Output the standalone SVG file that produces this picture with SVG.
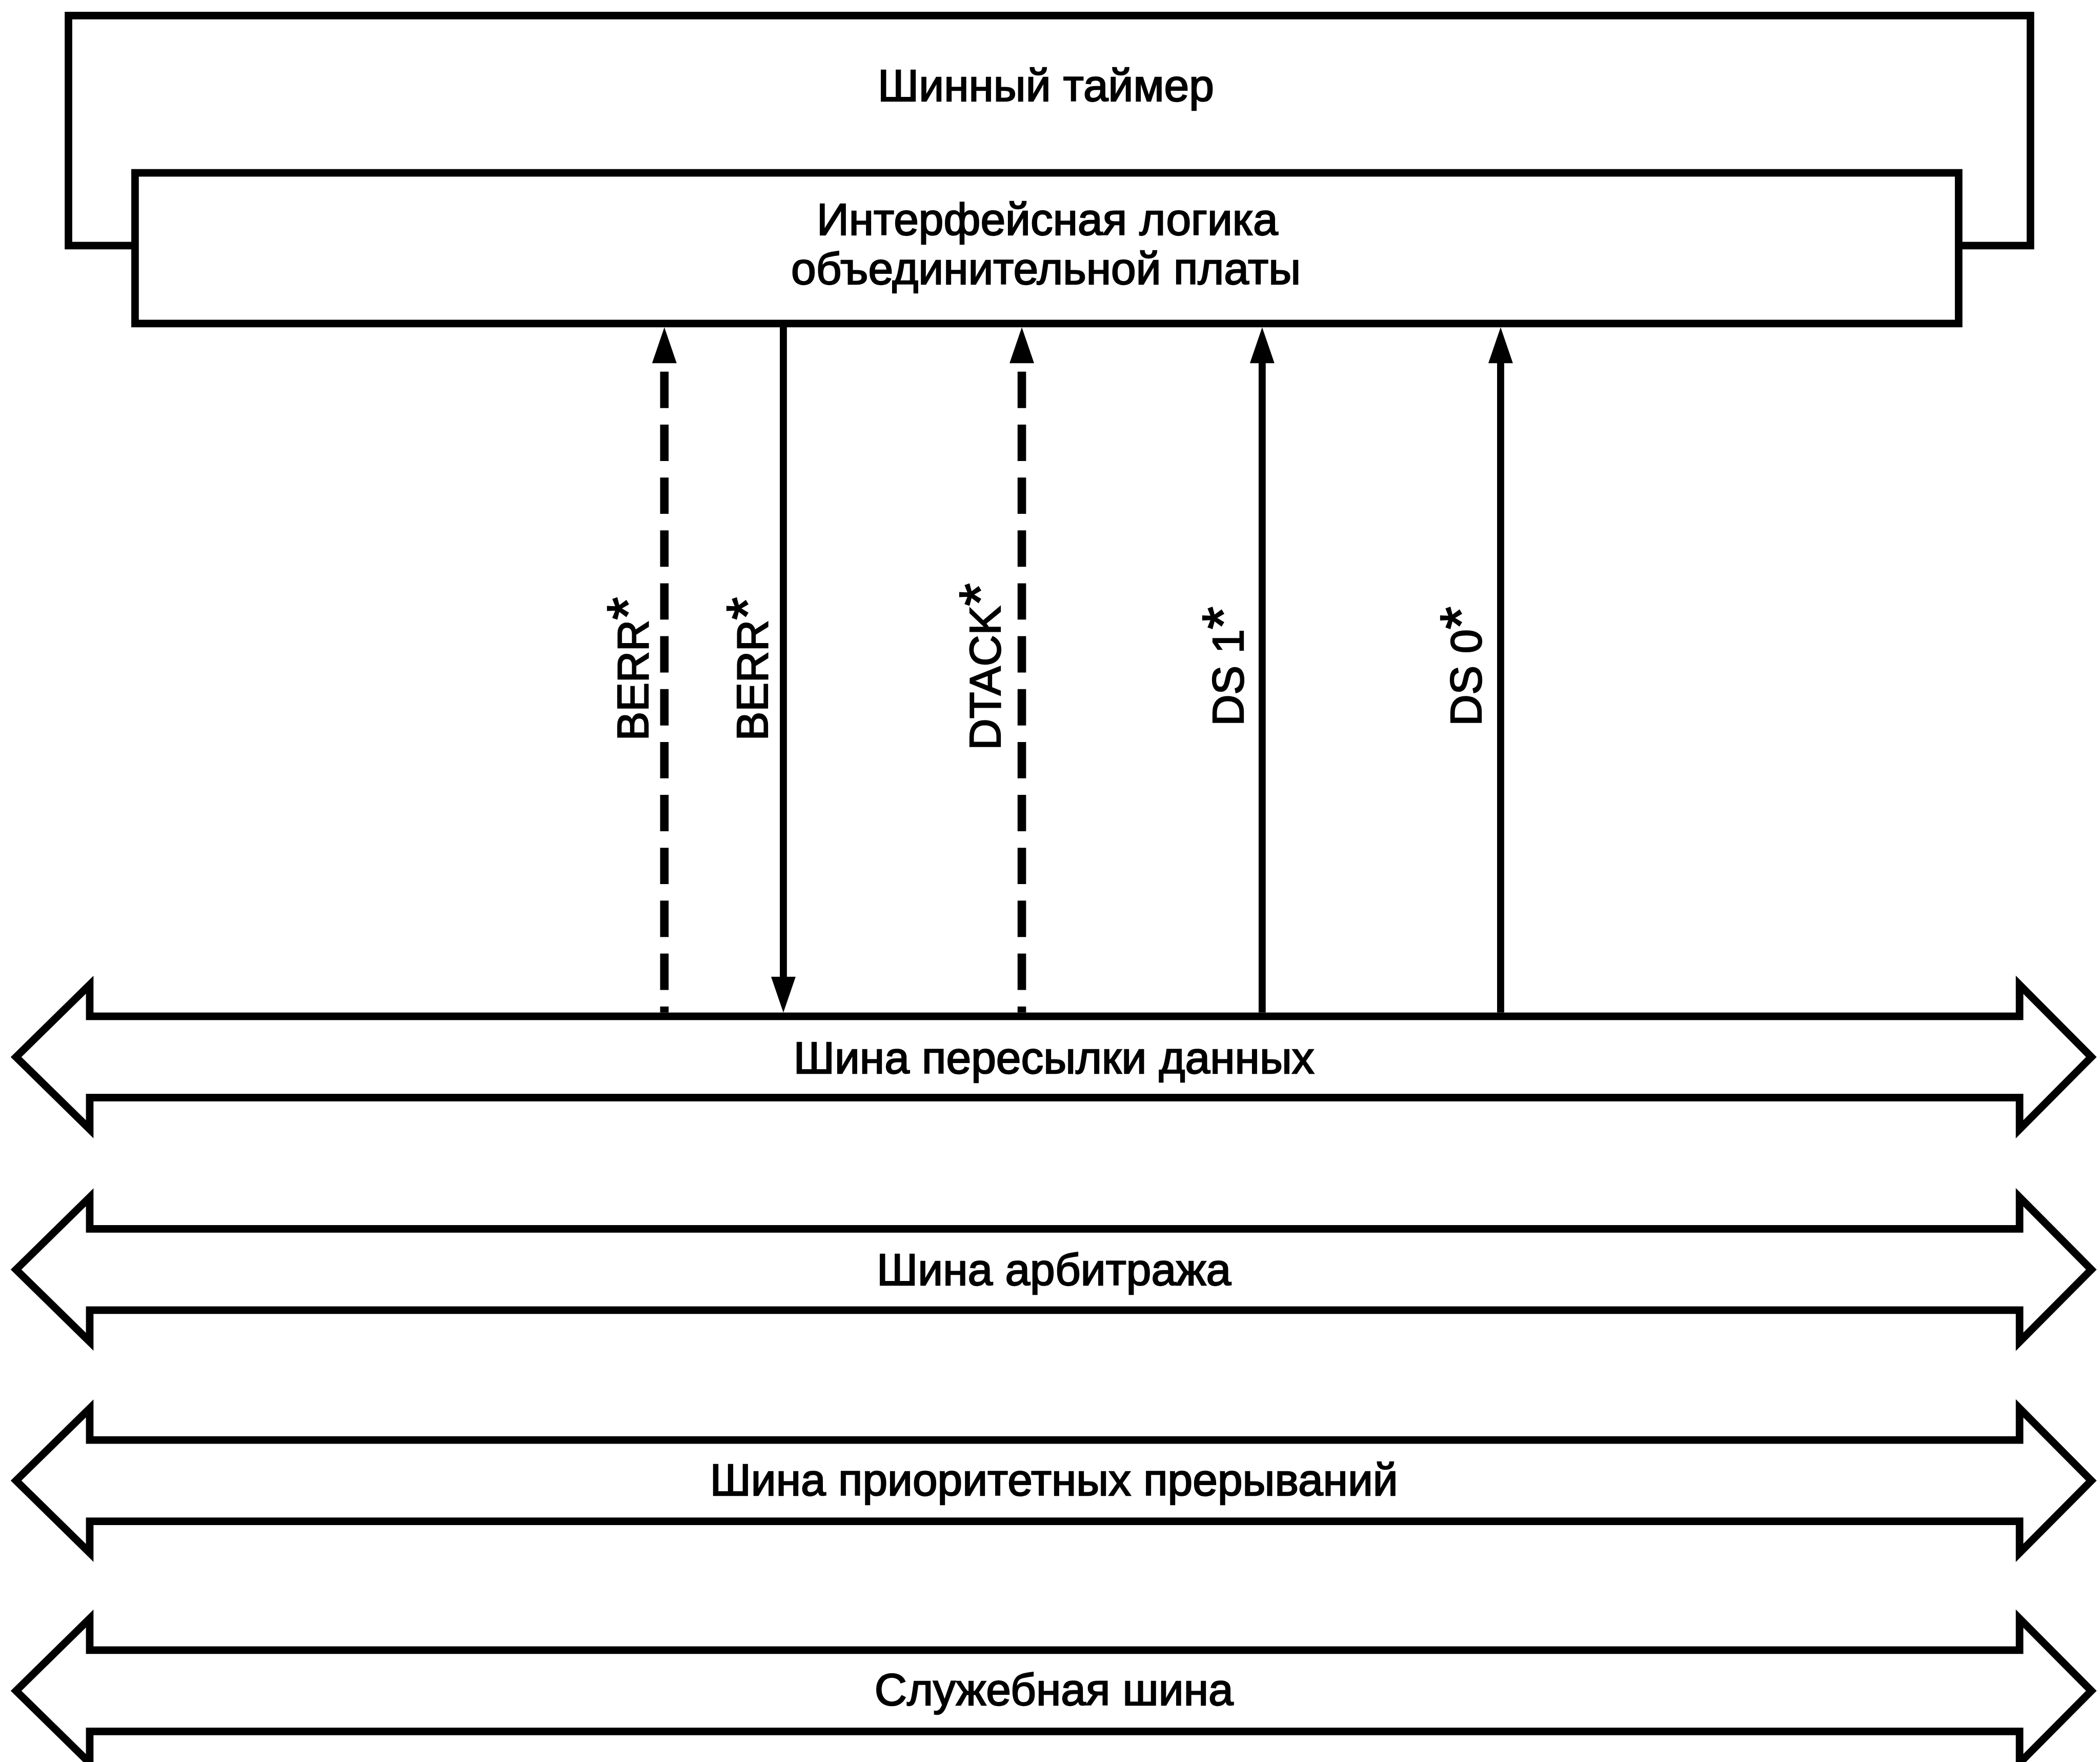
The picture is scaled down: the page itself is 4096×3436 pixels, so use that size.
<svg xmlns="http://www.w3.org/2000/svg" xmlns:xlink="http://www.w3.org/1999/xlink" width="4096" height="3436" viewBox="0 0 4096 3436">
<style>
  .box { fill: #fff; stroke: #000; stroke-width: 16; }
  .bus { fill: #fff; stroke: #000; stroke-width: 16; stroke-linejoin: miter; }
  .lbl { font-family: "Liberation Sans", Arial, sans-serif; font-size: 95px; fill: #000; stroke: #000; stroke-width: 2.5; text-anchor: middle; }
  .sig { font-family: "Liberation Sans", Arial, sans-serif; font-size: 92px; fill: #000; stroke: #000; stroke-width: 2.5; }
  .ast { font-size: 124px; }
  .solid { stroke: #000; stroke-width: 15; fill: none; }
  .dash { stroke: #000; stroke-width: 18; fill: none; stroke-dasharray: 77 35; }
</style>
<defs>
  <path id="ah" d="M0,0 L-26,76 L26,76 Z" fill="#000"/>
</defs>
<rect width="4096" height="3436" fill="#fff"/>
<g transform="scale(0.921)">
  <g id="bus-timer">
    <rect class="box" x="145" y="33" width="4155" height="487"/>
    <text class="lbl" x="2215" y="214">Шинный таймер</text>
  </g>
  <g id="backplane-logic">
    <rect class="box" x="286" y="366" width="3862" height="319"/>
    <text class="lbl" x="2218" y="497">Интерфейсная логика</text>
    <text class="lbl" x="2215" y="601">объединительной платы</text>
  </g>
  <g id="bus-data">
    <polygon class="bus" points="34,2238 190,2085 190,2152 4277,2152 4277,2085 4429,2238 4277,2391 4277,2324 190,2324 190,2391"/>
    <text class="lbl" x="2232" y="2272">Шина пересылки данных</text>
  </g>
  <g id="bus-arbitration">
    <polygon class="bus" points="34,2688 190,2535 190,2602 4277,2602 4277,2535 4429,2688 4277,2841 4277,2774 190,2774 190,2841"/>
    <text class="lbl" x="2232" y="2721">Шина арбитража</text>
  </g>
  <g id="bus-interrupt">
    <polygon class="bus" points="34,3135 190,2982 190,3049 4277,3049 4277,2982 4429,3135 4277,3288 4277,3221 190,3221 190,3288"/>
    <text class="lbl" x="2232" y="3166">Шина приоритетных прерываний</text>
  </g>
  <g id="bus-utility">
    <polygon class="bus" points="34,3580 190,3427 190,3494 4277,3494 4277,3427 4429,3580 4277,3733 4277,3666 190,3666 190,3733"/>
    <text class="lbl" x="2232" y="3610">Служебная шина</text>
  </g>
  <g id="connectors">
    <line class="dash" x1="1407" y1="787" x2="1407" y2="2144"/>
    <use xlink:href="#ah" href="#ah" x="1407" y="693"/>
    <line class="solid" x1="1659" y1="685" x2="1659" y2="2075"/>
    <use xlink:href="#ah" href="#ah" transform="translate(1659,2144) rotate(180)"/>
    <line class="dash" x1="2164" y1="787" x2="2164" y2="2144"/>
    <use xlink:href="#ah" href="#ah" x="2164" y="693"/>
    <line class="solid" x1="2673" y1="2144" x2="2673" y2="765"/>
    <use xlink:href="#ah" href="#ah" x="2673" y="693"/>
    <line class="solid" x1="3178" y1="2144" x2="3178" y2="765"/>
    <use xlink:href="#ah" href="#ah" x="3178" y="693"/>
  </g>
  <g id="labels">
    <text class="sig" transform="translate(1372,1568) rotate(-90)">BERR<tspan class="ast">*</tspan></text>
    <text class="sig" transform="translate(1625,1568) rotate(-90)">BERR<tspan class="ast">*</tspan></text>
    <text class="sig" transform="translate(2118,1588) rotate(-90)">DTACK<tspan class="ast">*</tspan></text>
    <text class="sig" transform="translate(2633,1537) rotate(-90)">DS 1<tspan class="ast">*</tspan></text>
    <text class="sig" transform="translate(3137,1537) rotate(-90)">DS 0<tspan class="ast">*</tspan></text>
  </g>
</g>
</svg>
